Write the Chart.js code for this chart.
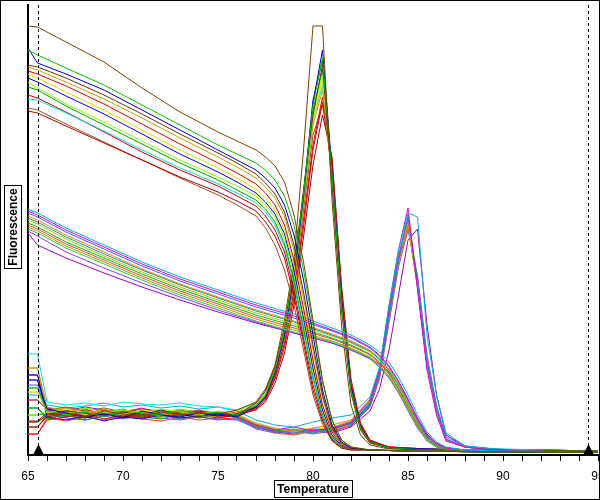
<!DOCTYPE html>
<html>
<head>
<meta charset="utf-8">
<title>Melt curves</title>
<script src="https://cdn.jsdelivr.net/npm/chart.js"></script>
<style>
body { margin: 0; background: #fff; }
#chart1 { display: block; }
</style>
</head>
<body>
<canvas id="chart1" width="600" height="500"></canvas>
<script>
// x tick labels
var tickLabels = [65, 70, 75, 80, 85, 90, 95];
var leftCursor = 65.5;
var rightCursor = 94.45;

// raw fluorescence, product melting near 80.5
var tempsRawA = [65, 65.5, 67, 69, 71, 73, 75, 76, 77, 77.5, 78, 78.5, 79, 79.5, 80, 80.5, 81, 81.5, 82, 83, 85, 90, 95];
var rawA = [
    [429,428,413,393,367,343,323,314,305,298,289,273,240,193,135,75,35,15,8,5,4,3,3],
    [405,400,387,370,350,330,310,301,292,285,275,259,230,185,130,73,35,15,8,5,4,3,3],
    [407,392,381,365,345,325,305,295,285,277,267,250,220,175,120,65,30,13,7,5,4,3,3],
    [390,388,377,360,341,321,302,292,281,272,261,243,210,163,110,60,27,12,7,5,4,3,3],
    [388,385,373,356,337,317,298,288,277,268,257,239,205,157,105,57,25,11,7,5,4,3,3],
    [384,381,369,351,331,311,292,282,271,262,250,230,195,147,95,50,23,10,6,5,4,3,3],
    [381,377,363,345,325,305,287,277,266,257,245,225,190,143,93,49,22,10,6,5,4,3,3],
    [377,373,359,341,321,301,283,273,262,253,241,221,185,137,87,45,20,9,6,5,4,3,3],
    [373,367,351,333,314,295,278,269,259,250,238,217,180,133,83,43,19,9,6,5,4,3,3],
    [368,365,349,330,311,292,275,265,255,246,233,211,175,127,79,41,18,8,6,5,4,3,3],
    [356,355,342,324,305,287,271,262,252,243,230,208,171,123,75,39,17,8,6,5,4,3,3],
    [360,357,343,323,303,285,269,259,249,239,225,203,165,117,70,37,16,8,6,5,4,3,3],
    [344,342,329,312,295,278,263,254,244,233,219,197,159,112,65,34,15,7,5,5,4,3,3],
    [347,345,331,313,295,277,260,250,239,227,210,185,150,105,60,31,14,7,5,5,4,3,3]
];
var colorsA = ['#804000', '#00c000', '#0000c0', '#603010', '#c0a000', '#e00000', '#e0e000',
               '#0000ff', '#80ff00', '#00a000', '#00e0e0', '#d00000', '#b00000', '#a05020'];

// raw fluorescence, product melting near 85
var tempsRawB = [65, 65.5, 67, 69, 71, 73, 75, 77, 79, 81, 82, 83, 83.5, 84, 84.5, 85, 85.5, 86, 86.5, 87, 88, 90, 95];
var rawB = [
    [246,242,227,210,193,178,165,152,141,127,120,110,103,93,78,60,40,23,13,8,5,4,3],
    [244,240,225,208,191,176,163,150,139,125,118,108,100,89,74,56,36,20,11,7,5,4,3],
    [242,238,223,206,189,174,161,148,137,124,117,107,99,88,73,55,35,19,11,7,5,4,3],
    [239,235,220,203,186,171,158,145,134,121,114,105,97,86,71,53,34,19,10,7,5,4,3],
    [237,233,218,201,185,170,157,144,133,120,113,104,96,85,70,52,33,18,10,7,5,4,3],
    [235,231,216,199,183,168,155,142,131,119,112,103,95,84,69,51,32,18,10,7,5,4,3],
    [232,228,213,197,181,166,153,140,129,117,110,101,93,82,67,49,31,17,9,6,5,4,3],
    [230,226,211,195,179,164,151,138,127,116,109,100,92,81,66,48,30,17,9,6,5,4,3],
    [228,224,209,193,177,162,149,136,125,114,107,98,90,79,64,46,29,16,9,6,5,4,3],
    [226,222,207,191,175,160,147,134,123,113,106,97,89,78,63,45,28,15,8,6,5,4,3],
    [224,219,203,187,172,158,145,133,122,112,105,96,88,77,62,44,27,14,8,6,5,4,3],
    [222,210,197,182,168,155,143,132,122,112,105,97,91,83,70,55,37,21,12,7,5,4,3]
];
var colorsB = ['#00b0e0', '#e000e0', '#4060ff', '#ff8000', '#00a0a0', '#c0c000',
               '#00c000', '#ff4040', '#a0a000', '#40c040', '#8040ff', '#a000c0'];

// -dF/dT, peak near 80.5
var tempsDerivA = [65, 65.5, 66, 67, 68, 69, 70, 71, 72, 73, 74, 75, 76, 77, 77.5, 78, 78.5, 79, 79.5, 80, 80.5, 81, 81.5, 82, 82.5, 83, 84, 86, 88, 90, 92, 95];
var derivA = [
    [28,28,40,42,38,44,41,39,43,40,42,41,45,53,66,90,135,195,305,429,429,255,130,50,20,10,6,5,5,4,4,4],
    [67,67,44,40,43,38,44,42,40,45,41,43,40,50,60,85,125,185,262,350,397,280,150,65,27,13,7,5,5,4,4,4],
    [75,75,46,42,38,41,37,44,40,38,42,39,41,48,58,82,120,180,258,352,405,285,155,68,28,13,7,6,5,4,4,3],
    [33,33,40,44,42,39,43,40,45,41,38,42,40,52,64,88,128,188,265,340,390,270,145,62,25,12,7,5,5,4,4,4],
    [87,87,48,44,41,46,40,43,39,44,40,38,42,49,59,83,122,178,250,330,365,280,150,64,26,12,7,5,5,4,4,4],
    [21,21,35,38,42,36,40,37,41,39,43,38,40,47,56,78,112,165,235,310,358,290,160,70,30,14,8,6,5,5,4,4],
    [63,63,42,46,40,44,41,45,42,39,41,44,41,50,61,86,126,185,258,335,375,275,148,63,26,12,7,5,5,4,4,4],
    [80,80,38,35,39,34,38,36,40,37,39,41,38,48,58,84,124,184,262,355,395,282,152,66,27,13,7,6,5,4,4,3],
    [40,40,44,41,47,43,45,42,46,43,40,42,44,51,62,87,127,186,260,340,380,278,150,64,26,12,7,5,5,4,4,4],
    [47,47,36,40,35,39,42,38,36,41,37,40,39,49,59,84,123,182,255,345,385,284,154,66,28,13,7,5,5,4,4,4],
    [101,101,53,50,52,49,53,51,50,52,49,48,45,52,62,86,125,182,255,335,370,286,158,68,28,13,7,6,5,4,4,4],
    [28,28,38,42,39,45,41,38,42,40,44,40,39,46,55,76,108,158,228,305,353,295,165,72,30,14,8,6,5,4,4,4],
    [34,34,42,39,37,41,38,42,39,43,40,37,40,45,53,72,102,150,218,290,340,298,170,76,32,15,8,6,5,4,4,4],
    [55,55,45,48,44,47,43,46,44,42,45,41,43,48,57,80,117,172,245,320,350,288,160,70,29,13,7,5,5,4,4,4]
];

// -dF/dT, peak near 85
var tempsDerivB = [65, 65.5, 66, 67, 68, 69, 70, 71, 72, 73, 74, 75, 76, 77, 78, 79, 80, 81, 82, 83, 83.5, 84, 84.5, 85, 85.5, 86, 86.5, 87, 88, 89, 90, 92, 95];
var derivB = [
    [60,60,50,47,49,52,48,50,47,49,46,48,44,35,30,28,33,37,40,58,88,150,205,242,238,120,60,22,9,7,6,5,4],
    [55,55,45,42,46,40,43,47,41,44,40,42,38,30,25,28,24,27,33,55,85,148,205,247,165,85,40,14,8,6,5,5,4],
    [70,70,42,38,41,44,39,37,42,40,38,36,35,27,24,22,26,25,32,52,82,142,198,238,172,92,45,16,8,6,5,5,4],
    [87,87,44,47,43,40,45,41,39,43,41,38,40,31,26,24,27,30,35,56,86,146,200,235,170,90,43,15,8,6,5,4,4],
    [47,47,38,41,37,42,39,43,40,36,39,41,37,29,23,25,22,27,31,50,80,140,196,240,175,95,46,16,8,6,5,5,4],
    [63,63,46,43,47,44,41,45,42,46,43,40,41,32,27,23,25,28,34,54,84,144,198,232,168,88,42,14,8,6,5,4,4],
    [40,40,41,44,39,43,46,40,44,41,44,42,39,30,24,26,23,26,32,51,81,141,197,236,173,93,45,15,8,6,5,5,4],
    [21,21,37,34,38,35,39,36,34,38,35,37,36,28,22,20,24,23,30,49,78,138,194,230,170,90,44,15,8,6,5,4,4],
    [33,33,39,42,38,41,37,40,43,39,42,38,40,29,25,21,26,24,31,50,79,136,192,228,168,89,43,15,8,6,5,5,4],
    [67,67,43,40,44,41,45,42,38,42,39,43,39,31,26,24,22,25,33,53,83,143,197,233,171,91,44,15,8,6,5,4,4],
    [75,75,40,37,35,39,36,40,37,35,38,35,37,26,22,24,21,24,29,48,76,132,188,225,180,100,50,18,9,7,5,5,4],
    [80,80,47,44,48,45,42,46,43,40,44,41,38,28,23,21,24,22,28,44,66,105,160,215,226,130,60,20,9,7,5,5,4]
];

function makeLine(temps, vals, color) {
    var pts = [];
    for (var i = 0; i < temps.length; i++) {
        pts.push({ x: temps[i], y: vals[i] });
    }
    return {
        data: pts,
        borderColor: color,
        borderWidth: 1,
        pointRadius: 0,
        fill: false,
        tension: 0
    };
}

function boxedText(ctx, text, cx, cy, rotate) {
    ctx.save();
    ctx.translate(cx, cy);
    if (rotate) ctx.rotate(-Math.PI / 2);
    ctx.font = 'bold 12px "Liberation Sans", Arial, sans-serif';
    ctx.textAlign = 'center';
    ctx.textBaseline = 'middle';
    var w = ctx.measureText(text).width + 6;
    ctx.fillStyle = '#fff';
    ctx.fillRect(-w / 2, -8, w, 16);
    ctx.strokeStyle = '#000';
    ctx.lineWidth = 1;
    ctx.strokeRect(Math.round(-w / 2) + 0.5, -8.5, Math.round(w), 17);
    ctx.fillStyle = '#000';
    ctx.fillText(text, 0, 1);
    ctx.restore();
}

var extras = {
    id: 'extras',
    afterDraw: function(chart) {
        var ctx = chart.ctx;
        var area = chart.chartArea;
        var xs = chart.scales.x;
        var cursors = [leftCursor, rightCursor];
        ctx.save();
        for (var i = 0; i < cursors.length; i++) {
            var px = Math.round(xs.getPixelForValue(cursors[i])) + 0.5;
            ctx.strokeStyle = '#000';
            ctx.lineWidth = 1;
            ctx.setLineDash([3, 3]);
            ctx.beginPath();
            ctx.moveTo(px, area.top);
            ctx.lineTo(px, area.bottom - 10);
            ctx.stroke();
            ctx.setLineDash([]);
            ctx.fillStyle = '#000';
            ctx.beginPath();
            ctx.moveTo(px - 5.5, area.bottom);
            ctx.lineTo(px + 5.5, area.bottom);
            ctx.lineTo(px, area.bottom - 11);
            ctx.closePath();
            ctx.fill();
        }
        ctx.strokeStyle = '#000';
        ctx.lineWidth = 1;
        ctx.strokeRect(0.5, 0.5, chart.width - 1, chart.height - 1);
        ctx.restore();
        boxedText(ctx, 'Temperature', (area.left + area.right) / 2, 489, false);
        boxedText(ctx, 'Fluorescence', 13, 227, true);
    }
};

function makeMeltChart() {
    var sets = [];
    for (var i = 0; i < rawA.length; i++) sets.push(makeLine(tempsRawA, rawA[i], colorsA[i]));
    for (var j = 0; j < rawB.length; j++) sets.push(makeLine(tempsRawB, rawB[j], colorsB[j]));
    for (var k = 0; k < derivA.length; k++) sets.push(makeLine(tempsDerivA, derivA[k], colorsA[k]));
    for (var m = 0; m < derivB.length; m++) sets.push(makeLine(tempsDerivB, derivB[m], colorsB[m]));

    var ctx1 = document.getElementById('chart1').getContext('2d');
    var chart1 = new Chart(ctx1, {
        type: 'line',
        data: { datasets: sets },
        options: {
            responsive: false,
            animation: false,
            layout: { autoPadding: false, padding: { top: 5, right: 2, left: 0, bottom: 0 } },
            plugins: {
                legend: { display: false },
                title: { display: false },
                tooltip: { enabled: false }
            },
            scales: {
                x: {
                    type: 'linear',
                    min: 65,
                    max: 95,
                    afterFit: function(s) {
                        s.height = 45;
                        s.paddingLeft = 0;
                        s.paddingRight = 0;
                    },
                    ticks: {
                        stepSize: 1,
                        autoSkip: false,
                        maxRotation: 0,
                        padding: 8,
                        color: '#000',
                        font: { family: '"Liberation Sans", Arial, sans-serif', size: 12 },
                        callback: function(v) { return tickLabels.indexOf(v) >= 0 ? String(v) : ''; }
                    },
                    grid: { drawOnChartArea: false, drawTicks: true, tickLength: 6, color: '#000' },
                    border: { display: true, color: '#000', width: 2 }
                },
                y: {
                    min: 0,
                    max: 450,
                    afterFit: function(s) { s.width = 28; },
                    ticks: { display: false },
                    grid: { display: false },
                    border: { display: true, color: '#000', width: 2 }
                }
            }
        },
        plugins: [extras]
    });
}

window.onload = function() {
    makeMeltChart();
};
</script>
</body>
</html>
